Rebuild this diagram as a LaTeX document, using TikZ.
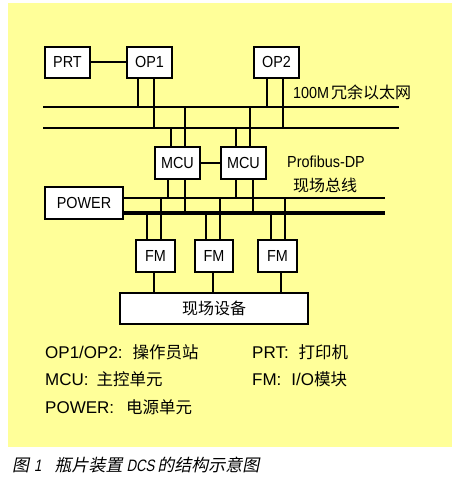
\documentclass[tikz,border=0pt]{standalone}
\usepackage{fontspec}
\setmainfont{Liberation Sans}
\newfontfamily\cjk{Noto Sans CJK SC}
\newfontfamily\nar[FakeStretch=0.9]{Liberation Sans}
\newfontfamily\cjkit[FakeSlant=0.2]{Noto Sans CJK SC}
\newfontfamily\latit[FakeStretch=0.8,FakeSlant=0.2]{Liberation Sans}
\usetikzlibrary{calc}
\definecolor{bgyellow}{HTML}{FFFF99}
\newcommand\vconn[3]{\path ($(#1)+(#2,0)$) coordinate (vtmp); \draw[wire] (vtmp) -- (vtmp |- #3);}
\begin{document}
\begin{tikzpicture}[x=1pt,y=-1pt,
  box/.style={draw,line width=2pt,fill=white,inner sep=0pt,font=\nar\fontsize{16}{16}\selectfont},
  wire/.style={line width=1.8pt},
  thickwire/.style={line width=3.4pt},
  lbl/.style={anchor=west,inner sep=0pt,font=\nar\fontsize{16}{16}\selectfont},
  leg/.style={anchor=west,inner sep=0pt,font=\fontsize{17}{17}\selectfont}]
\useasboundingbox (0,0) rectangle (454,480);
\fill[bgyellow] (8,3) rectangle (452,447);

% buses
\coordinate (busAL) at (43,107); \coordinate (busAR) at (399,107);
\coordinate (busBL) at (43,128); \coordinate (busBR) at (399,128);
\coordinate (pbA) at (385,198); \coordinate (pbB) at (385,213);

% nodes
\node[box,minimum width=45pt,minimum height=31pt] (PRT) at (67.5,62) {PRT};
\node[box,minimum width=45pt,minimum height=31pt] (OP1) at (149.5,62) {OP1};
\node[box,minimum width=45pt,minimum height=31pt] (OP2) at (276.5,62) {OP2};
\node[box,minimum width=45pt,minimum height=32pt] (MCU1) at (177.5,163) {MCU};
\node[box,minimum width=45pt,minimum height=32pt] (MCU2) at (243.5,163) {MCU};
\node[box,minimum width=78pt,minimum height=32pt] (POWER) at (84,203) {POWER};
\node[box,minimum width=39pt,minimum height=32pt] (FM1) at (155.5,256) {FM};
\node[box,minimum width=38pt,minimum height=32pt] (FM2) at (214,256) {FM};
\node[box,minimum width=39pt,minimum height=32pt] (FM3) at (277.5,256) {FM};
\node[box,minimum width=188pt,minimum height=31pt,font=\cjk\fontsize{16}{16}\selectfont] (EQ) at (214,308.5) {现场设备};

% bus lines
\draw[wire] (busAL) -- (busAR);
\draw[wire] (busBL) -- (busBR);
\draw[wire] (POWER.east |- pbA) -- (pbA);
\draw[thickwire] (POWER.east |- pbB) -- (pbB);

% connectors
\draw[wire] (PRT) -- (OP1);
\draw[wire] (MCU1) -- (MCU2);
\vconn{OP1.south}{-11.5}{busAL}
\vconn{OP1.south}{4.5}{busBL}
\vconn{OP2.south}{-9.5}{busAL}
\vconn{OP2.south}{6.5}{busBL}
\vconn{MCU1.north}{-6.5}{busBL}
\vconn{MCU1.north}{7.5}{busAL}
\vconn{MCU2.north}{-7.5}{busBL}
\vconn{MCU2.north}{6.5}{busAL}
\vconn{MCU1.south}{-9.5}{pbA}
\vconn{MCU1.south}{7.5}{pbB}
\vconn{MCU2.south}{-7.5}{pbA}
\vconn{MCU2.south}{9.5}{pbB}
\vconn{FM1.north}{-8.5}{pbB}
\vconn{FM1.north}{5.5}{pbA}
\vconn{FM2.north}{-8}{pbB}
\vconn{FM2.north}{6}{pbA}
\vconn{FM3.north}{-6.5}{pbB}
\vconn{FM3.north}{7.5}{pbA}
\vconn{FM1.south}{-1.5}{EQ.north}
\vconn{FM2.south}{-1}{EQ.north}
\vconn{FM3.south}{3.5}{EQ.north}

% labels
\node[lbl] (eth) at (293,92) {100M\hspace{2pt}{\cjk\fontsize{16}{16}\selectfont 冗余以太网}};
\node[lbl] (pb) at (287,162) {Profibus-DP};
\node[lbl,font=\cjk\fontsize{16}{16}\selectfont] (pb2) at (293,185) {现场总线};

% legend
\node[leg] (l1) at (45,352) {OP1/OP2:\hspace{10pt}{\cjk\fontsize{16.5}{16.5}\selectfont 操作员站}};
\node[leg] (l2) at (45,379) {MCU:\hspace{8pt}{\cjk\fontsize{16.5}{16.5}\selectfont 主控单元}};
\node[leg] (l3) at (45,407) {POWER:\hspace{12pt}{\cjk\fontsize{16.5}{16.5}\selectfont 电源单元}};
\node[leg] (l4) at (252,352) {PRT:\hspace{10pt}{\cjk\fontsize{16.5}{16.5}\selectfont 打印机}};
\node[leg] (l5) at (252,379) {FM:\hspace{10pt}I/O{\cjk\fontsize{16.5}{16.5}\selectfont 模块}};

% caption
\node[anchor=west,inner sep=0pt] (cap) at (12,465) {{\cjkit\fontsize{17}{17}\selectfont 图}\hspace{5pt}{\latit\fontsize{16.5}{16.5}\selectfont 1}\hspace{13pt}{\cjkit\fontsize{17}{17}\selectfont 瓶片装置}\hspace{4pt}{\latit\fontsize{16.5}{16.5}\selectfont DCS}\hspace{3pt}{\cjkit\fontsize{17}{17}\selectfont 的结构示意图}};
\end{tikzpicture}
\end{document}
